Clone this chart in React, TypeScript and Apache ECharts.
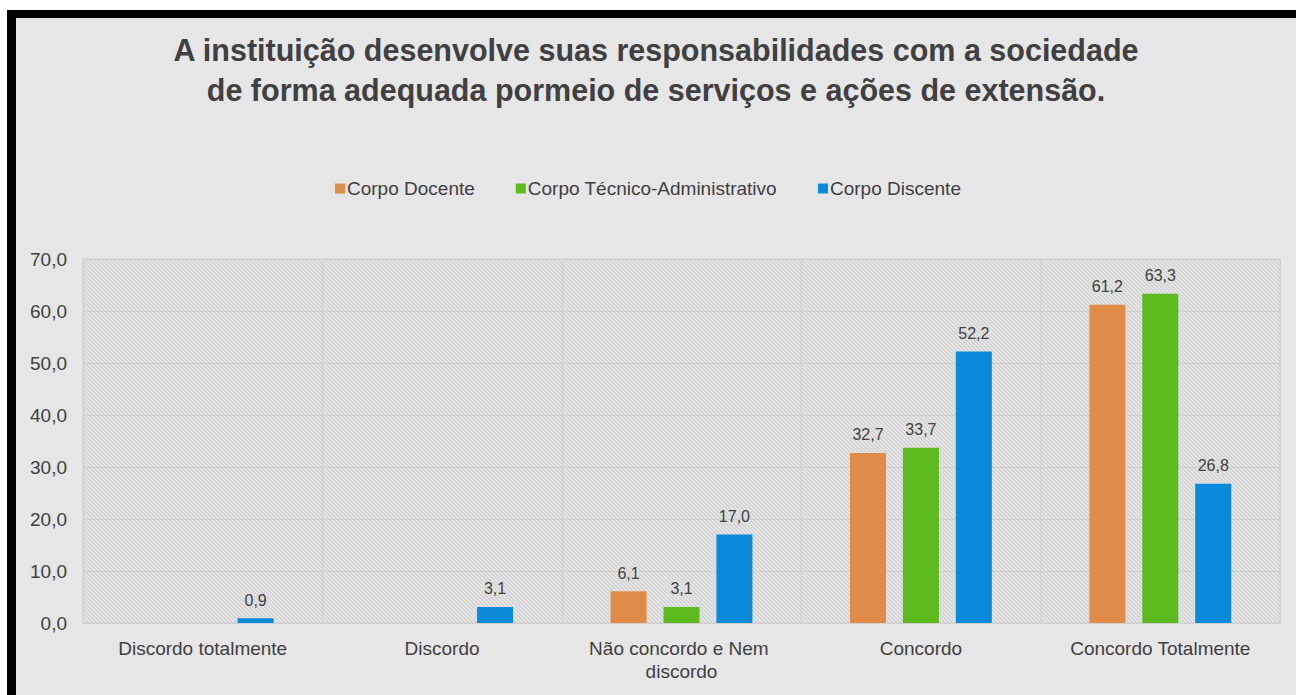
import React, { useEffect, useRef } from "react";
import * as echarts from "echarts";

const categories = [
  "Discordo totalmente",
  "Discordo",
  "Não concordo e Nem discordo",
  "Concordo",
  "Concordo Totalmente",
];
const seriesNames = ["Corpo Docente", "Corpo Técnico-Administrativo", "Corpo Discente"];
const docente: (number | null)[] = [null, null, 6.1, 32.7, 61.2];
const tecnico: (number | null)[] = [null, null, 3.1, 33.7, 63.3];
const discente: (number | null)[] = [0.9, 3.1, 17.0, 52.2, 26.8];
const colors = ["#E08C48", "#5CB91E", "#0A8ADB"];
const yTicks = { min: 0, max: 70, interval: 10 };

const FONT = "'Liberation Sans Narrow', 'Arial Narrow', 'Liberation Sans', Arial, sans-serif";

function hatchPattern() {
  const svg =
    "<svg xmlns='http://www.w3.org/2000/svg' width='4' height='4'>" +
    "<rect width='4' height='4' fill='#e2e2e2'/>" +
    "<path d='M-1,-1 L5,5 M-1,3 L1,5 M3,-1 L5,1' stroke='#cbcbcb' stroke-width='1'/>" +
    "</svg>";
  return {
    image: "data:image/svg+xml;charset=utf-8," + encodeURIComponent(svg),
    repeat: "repeat",
  };
}

export default function App() {
  const ref = useRef<HTMLDivElement>(null);
  useEffect(() => {
    if (!ref.current) return;
    const chart = echarts.init(ref.current, null, { renderer: "svg" });
    const fmt = (v: number) => v.toFixed(1).replace(".", ",");
    const data = [docente, tecnico, discente];
    chart.setOption({
      animation: false,
      backgroundColor: "#e6e6e6",
      title: {
        text:
          "A instituição desenvolve suas responsabilidades com a sociedade\nde forma adequada pormeio de serviços e ações de extensão.",
        left: "center",
        top: 7,
        textStyle: {
          fontFamily: "'Liberation Sans', Arial, sans-serif",
          fontWeight: "bold",
          fontSize: 30.5,
          lineHeight: 40,
          color: "#404040",
        },
      },
      legend: {
        data: seriesNames,
        top: 156,
        left: 314,
        itemWidth: 10,
        itemHeight: 10,
        itemGap: 41,
        icon: "rect",
        textStyle: { fontFamily: FONT, fontSize: 19, color: "#404040", padding: [0, 0, 0, -3] },
      },
      grid: {
        left: 67,
        right: 16,
        top: 241,
        bottom: 72,
        show: true,
        backgroundColor: hatchPattern(),
        borderColor: "#d0d0d0",
        borderWidth: 1,
      },
      xAxis: {
        type: "category",
        data: categories,
        axisLine: { show: true, lineStyle: { color: "#d0d0d0" } },
        axisTick: { show: false },
        splitLine: { show: true, lineStyle: { color: "#d0d0d0", width: 1 } },
        axisLabel: {
          fontFamily: FONT,
          fontSize: 19,
          color: "#404040",
          margin: 14,
          width: 200,
          overflow: "break",
          lineHeight: 23,
          interval: 0,
        },
      },
      yAxis: {
        type: "value",
        min: yTicks.min,
        max: yTicks.max,
        interval: yTicks.interval,
        axisLine: { show: false },
        axisTick: { show: false },
        splitLine: { show: true, lineStyle: { color: "#d0d0d0", width: 1 } },
        axisLabel: {
          fontFamily: FONT,
          fontSize: 19,
          color: "#404040",
          margin: 16,
          formatter: (v: number) => fmt(v),
        },
      },
      series: seriesNames.map((name, i) => ({
        name,
        type: "bar",
        data: data[i],
        barWidth: 36,
        barGap: "47%",
        itemStyle: { color: colors[i] },
        label: {
          show: true,
          position: "top",
          distance: 10,
          fontFamily: FONT,
          fontSize: 16,
          color: "#404040",
          formatter: (p: any) => (p.value == null ? "" : fmt(p.value)),
        },
      })),
    });
    return () => chart.dispose();
  }, []);
  return (
    <div style={{ position: "absolute", left: 0, top: 0, width: 1296, height: 695, background: "#ffffff", overflow: "hidden" }}>
      <div style={{ position: "absolute", left: 7, top: 10, width: 1289, height: 685, background: "#000000" }} />
      <div ref={ref} style={{ position: "absolute", left: 16, top: 18, width: 1280, height: 677 }} />
    </div>
  );
}
